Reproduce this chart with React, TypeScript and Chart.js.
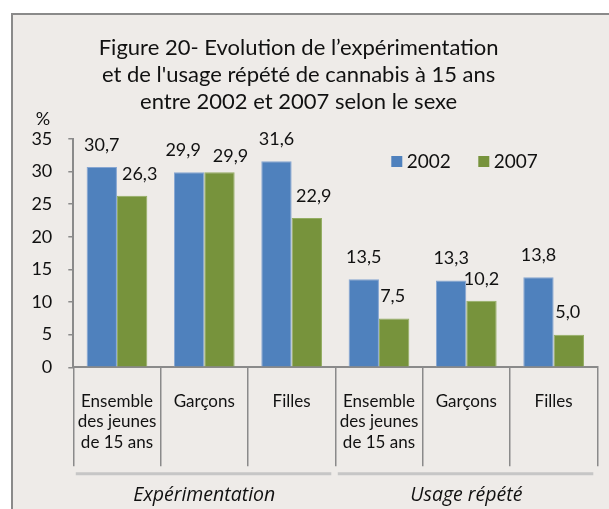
import React, { useEffect, useRef } from "react";
import { Chart, registerables } from "chart.js";

Chart.register(...registerables);

const titleLines = [
  "Figure 20- Evolution de l’expérimentation",
  "et de l'usage répété de cannabis à 15 ans",
  "entre 2002 et 2007 selon le sexe",
];
const categories: (string | string[])[] = [
  ["Ensemble", "des jeunes", "de 15 ans"],
  "Garçons",
  "Filles",
  ["Ensemble", "des jeunes", "de 15 ans"],
  "Garçons",
  "Filles",
];
const groupLabels = ["Expérimentation", "Usage répété"];
const groupSizes = [3, 3];
const seriesNames = ["2002", "2007"];
const values2002 = [30.7, 29.9, 31.6, 13.5, 13.3, 13.8];
const values2007 = [26.3, 29.9, 22.9, 7.5, 10.2, 5.0];
const yMin = 0;
const yMax = 35;
const yStep = 5;
const yUnit = "%";

// style-only nudges of the value labels (px), as placed in the original
const labelShiftX = [
  [0, -6, 0, 0, 0, 0],
  [7.5, 11, 7, -1.5, 0, -1],
];
const labelShiftY = [
  [0, 0, 0, 0, 0, 0],
  [0, 6, 0, 0, 0, 0],
];

const BLUE = "#4F81BD";
const GREEN = "#77933C";
const AXIS = "#8a8a8a";
const TEXT = "#111111";
const FONT = "Lato";

const fmt = (v: number) => v.toFixed(1).replace(".", ",");

const decorPlugin = {
  id: "decor",
  afterDatasetsDraw(chart: any) {
    const { ctx, chartArea } = chart;
    ctx.save();
    // data labels
    ctx.font = `18px ${FONT}`;
    ctx.fillStyle = TEXT;
    ctx.textAlign = "center";
    ctx.textBaseline = "middle";
    chart.data.datasets.forEach((ds: any, di: number) => {
      const meta = chart.getDatasetMeta(di);
      meta.data.forEach((bar: any, i: number) => {
        ctx.fillText(
          fmt(ds.data[i]),
          bar.x + labelShiftX[di][i],
          bar.y - 22 + labelShiftY[di][i]
        );
      });
    });
    // unit label
    ctx.font = `18px ${FONT}`;
    ctx.fillText(yUnit, chart.scales.y.left + 43, chartArea.top - 20);
    // legend
    let lx = chartArea.left + 318;
    const ly = chartArea.top + 22.5;
    ctx.font = `19px ${FONT}`;
    ctx.textAlign = "left";
    chart.data.datasets.forEach((ds: any) => {
      ctx.fillStyle = ds.backgroundColor;
      ctx.fillRect(lx, ly - 5.5, 11, 11);
      ctx.fillStyle = TEXT;
      ctx.fillText(ds.label, lx + 15.5, ly);
      lx += 87;
    });
    // group lines and labels
    const x = chart.scales.x;
    const w = x.getPixelForValue(1) - x.getPixelForValue(0);
    let start = 0;
    groupLabels.forEach((g, gi) => {
      const end = start + groupSizes[gi];
      const x0 = x.getPixelForValue(start) - w / 2;
      const x1 = x.getPixelForValue(end - 1) + w / 2;
      ctx.strokeStyle = "#c6c6c6";
      ctx.lineWidth = 3;
      ctx.beginPath();
      ctx.moveTo(x0 + 2.5, chartArea.bottom + 106.5);
      ctx.lineTo(x1 - 4, chartArea.bottom + 106.5);
      ctx.stroke();
      ctx.fillStyle = TEXT;
      ctx.font = `italic 19.5px "Open Sans"`;
      ctx.textAlign = "center";
      ctx.fillText(g, (x0 + x1) / 2, chartArea.bottom + 128.5);
      start = end;
    });
    ctx.restore();
  },
};

export default function App() {
  const ref = useRef<HTMLCanvasElement>(null);
  useEffect(() => {
    if (!ref.current) return;
    const chart = new Chart(ref.current, {
      type: "bar",
      data: {
        labels: categories,
        datasets: [
          {
            label: seriesNames[0],
            data: values2002,
            backgroundColor: BLUE,
            borderColor: "#86a6d2",
            borderWidth: 1,
          },
          {
            label: seriesNames[1],
            data: values2007,
            backgroundColor: GREEN,
            borderColor: "#93ad62",
            borderWidth: 1,
          },
        ],
      },
      options: {
        animation: false,
        responsive: false,
        maintainAspectRatio: false,
        layout: { padding: { left: 0, right: 11.7, top: 0, bottom: 0 } },
        datasets: { bar: { barPercentage: 1, categoryPercentage: 0.695 } },
        plugins: {
          legend: { display: false },
          tooltip: { enabled: false },
          title: {
            display: true,
            text: titleLines,
            color: TEXT,
            font: { family: FONT, size: 22, weight: "normal", lineHeight: 27 / 22 },
            padding: { top: 34.5, bottom: 23.5 },
          },
        },
        scales: {
          x: {
            type: "category",
            offset: true,
            grid: {
              offset: true,
              drawOnChartArea: false,
              drawTicks: true,
              tickLength: 99,
              color: AXIS,
              lineWidth: 1.5,
            },
            border: { color: AXIS, width: 2 },
            ticks: {
              color: TEXT,
              font: { family: FONT, size: 17, lineHeight: 20.5 / 17 },
              padding: -75.5,
              maxRotation: 0,
              autoSkip: false,
            },
            afterFit: (s: any) => {
              s.height = 141.7;
            },
          },
          y: {
            type: "linear",
            min: yMin,
            max: yMax,
            grid: {
              drawOnChartArea: false,
              drawTicks: true,
              tickLength: 5,
              color: AXIS,
              lineWidth: 1.5,
            },
            border: { color: AXIS, width: 2 },
            ticks: {
              stepSize: yStep,
              color: TEXT,
              font: { family: FONT, size: 18 },
              padding: 16,
            },
            afterFit: (s: any) => {
              s.width = 73.3;
            },
          },
        },
      },
      plugins: [decorPlugin],
    });
    return () => chart.destroy();
  }, []);

  return (
    <div style={{ position: "fixed", left: 0, top: 0, width: 609, height: 509, background: "#ffffff", overflow: "hidden" }}>
      <div
        style={{
          position: "absolute",
          left: 11,
          top: 13,
          right: 0,
          bottom: 0,
          borderLeft: `2px solid ${AXIS}`,
          borderTop: `2px solid ${AXIS}`,
          background: "#EEEBE8",
        }}
      />
      <canvas ref={ref} width={609} height={509} style={{ position: "absolute", left: 0, top: 0, width: 609, height: 509 }} />
    </div>
  );
}
